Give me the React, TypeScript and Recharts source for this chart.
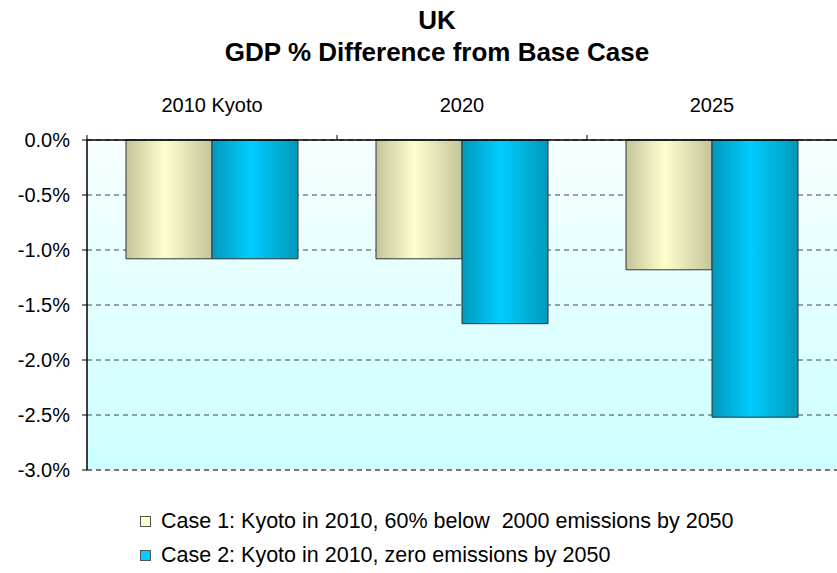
import { BarChart, Bar, XAxis, YAxis, CartesianGrid, Legend, ReferenceLine } from 'recharts';

const categories = ['2010 Kyoto', '2020', '2025'];
const case1 = [-1.08, -1.08, -1.18];
const case2 = [-1.08, -1.67, -2.52];
const seriesNames = [
  'Case 1: Kyoto in 2010, 60% below  2000 emissions by 2050',
  'Case 2: Kyoto in 2010, zero emissions by 2050',
];
const yTicks = [0, -0.5, -1, -1.5, -2, -2.5, -3];

const data = categories.map((name, i) => ({ name, case1: case1[i], case2: case2[i] }));

const font = '"Liberation Sans", Arial, sans-serif';
const swatch = ['#ffffcc', '#00ccff'];
const TICK_SIZE = 6;
const TICK_MARGIN = 22;

// category label plus a small tick mark on the left edge of each band
function TopTick(props: any) {
  const { x, y, payload, width, visibleTicksCount } = props;
  const band = width / (visibleTicksCount || categories.length);
  const axisY = y + TICK_SIZE + TICK_MARGIN;
  return (
    <g>
      <line x1={x - band / 2} x2={x - band / 2} y1={axisY} y2={axisY - 5} stroke="#000" />
      <text x={x} y={y} textAnchor="middle" fontSize={20} fontFamily={font} fill="#000">
        {payload.value}
      </text>
    </g>
  );
}

function LegendBox() {
  return (
    <div style={{ fontFamily: font, fontSize: 21.5, color: '#000' }}>
      {seriesNames.map((s, i) => (
        <div key={s} style={{ display: 'flex', alignItems: 'center', height: 34, whiteSpace: 'pre' }}>
          <span style={{ width: 9, height: 9, background: swatch[i], border: '1px solid #555', marginRight: 10 }} />
          {s}
        </div>
      ))}
    </div>
  );
}

export default function App() {
  const titleStyle = {
    position: 'absolute' as const,
    left: 37,
    width: 800,
    textAlign: 'center' as const,
    fontWeight: 'bold',
    fontSize: 26,
    lineHeight: '26px',
  };
  return (
    <div style={{ position: 'fixed', left: 0, top: 0, width: 837, height: 573, background: '#fff', fontFamily: font }}>
      <div style={{ ...titleStyle, top: 7 }}>UK</div>
      <div style={{ ...titleStyle, top: 39 }}>GDP % Difference from Base Case</div>
      <BarChart
        width={837}
        height={573}
        data={data}
        margin={{ top: 110, right: 0, left: 0, bottom: 103 }}
        barCategoryGap="15.6%"
        barGap={0}
      >
        <defs>
          <linearGradient id="bgGrad" x1="0" y1="0" x2="0" y2="1">
            <stop offset="0%" stopColor="#f7ffff" />
            <stop offset="100%" stopColor="#ccffff" />
          </linearGradient>
          <linearGradient id="beige" x1="0" y1="0" x2="1" y2="0">
            <stop offset="0%" stopColor="#c4c49c" />
            <stop offset="45%" stopColor="#ffffcc" />
            <stop offset="100%" stopColor="#c4c49c" />
          </linearGradient>
          <linearGradient id="cyan" x1="0" y1="0" x2="1" y2="0">
            <stop offset="0%" stopColor="#0099bb" />
            <stop offset="45%" stopColor="#00ccff" />
            <stop offset="100%" stopColor="#0099bb" />
          </linearGradient>
        </defs>
        <CartesianGrid vertical={false} fill="url(#bgGrad)" stroke="#444" strokeDasharray="5 4" />
        <ReferenceLine y={-3} stroke="#777" strokeWidth={2} strokeDasharray="5 4" />
        <XAxis
          dataKey="name"
          orientation="top"
          height={30}
          axisLine={{ stroke: '#000', strokeWidth: 1.5 }}
          tickLine={false}
          tickSize={TICK_SIZE}
          tickMargin={TICK_MARGIN}
          tick={<TopTick />}
        />
        <YAxis
          domain={[-3, 0]}
          ticks={yTicks}
          width={87}
          interval={0}
          axisLine={{ stroke: '#000', strokeWidth: 1.5 }}
          tickLine={{ stroke: '#000' }}
          tickSize={5}
          tickMargin={12}
          tickFormatter={(v: number) => v.toFixed(1) + '%'}
          tick={{ fill: '#000', fontSize: 20, fontFamily: font }}
        />
        <Bar dataKey="case1" name={seriesNames[0]} fill="url(#beige)" stroke="#333" strokeWidth={1} isAnimationActive={false} />
        <Bar dataKey="case2" name={seriesNames[1]} fill="url(#cyan)" stroke="#333" strokeWidth={1} isAnimationActive={false} />
        <Legend
          layout="vertical"
          align="center"
          verticalAlign="middle"
          content={() => <LegendBox />}
          wrapperStyle={{ left: 140, top: 504, width: 690, height: 68 }}
        />
      </BarChart>
    </div>
  );
}
